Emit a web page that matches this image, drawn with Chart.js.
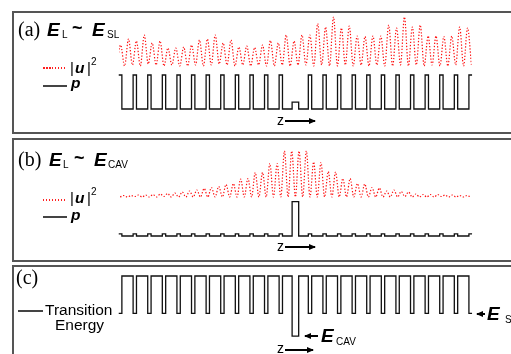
<!DOCTYPE html>
<html>
<head>
<meta charset="utf-8">
<script src="https://cdn.jsdelivr.net/npm/chart.js@4.4.1/dist/chart.umd.min.js"></script>
<style>
  body { margin: 0; background: #fff; }
  #wrap { position: relative; width: 511px; height: 354px; overflow: hidden; font-family: 'Liberation Sans', Arial, sans-serif; color: #000; }
  .box { position: absolute; left: 12px; width: 520px; border: 2px solid #555; box-sizing: border-box; }
  canvas { position: absolute; left: 108px; }
  .t { position: absolute; line-height: 1; white-space: nowrap; z-index: 2; }
  .ser { font-family: 'Liberation Serif', 'Times New Roman', serif; font-size: 20px; }
  .bi { font-weight: bold; font-style: italic; font-size: 19px; }
  .bl { font-weight: bold; font-size: 18px; }
  .s10 { font-size: 10px; }
  .s15 { font-size: 15px; }
  .bi15 { font-weight: bold; font-style: italic; font-size: 15.5px; }
  .red { position: absolute; left: 43px; width: 24px; height: 2px;
         background: repeating-linear-gradient(90deg, #ff2020 0 1.5px, transparent 1.5px 3px); }
  .blk { position: absolute; height: 2px; background: #444; }
  .arr { position: absolute; height: 1.5px; background: #000; z-index: 2; }
  .arr::after { content: ''; position: absolute; top: -2.5px; right: -1px;
                border-left: 7px solid #000; border-top: 3.25px solid transparent; border-bottom: 3.25px solid transparent; }
  .arr.l::after { right: auto; left: -1px; border-left: none; border-right: 7px solid #000; }
</style>
</head>
<body>
<div id="wrap">
  <div class="box" style="top:11px;height:123px"></div>
  <div class="box" style="top:138px;height:124px"></div>
  <div class="box" style="top:265px;height:100px"></div>

  <canvas id="chartA" width="375" height="100" style="top:14px"></canvas>
  <canvas id="chartB" width="375" height="100" style="top:141px"></canvas>
  <canvas id="chartC" width="375" height="80" style="top:268px"></canvas>

  <!-- (a) -->
  <div class="t ser" style="left:18px;top:19px">(a)</div>
  <div class="t bi" style="left:47px;top:20px">E</div>
  <div class="t s10" style="left:62px;top:30px">L</div>
  <div class="t bl" style="left:72px;top:19px">~</div>
  <div class="t bi" style="left:92px;top:20px">E</div>
  <div class="t s10" style="left:107px;top:30px">SL</div>
  <div class="red" style="top:67px"></div>
  <div class="t s15" style="left:70px;top:60px">|</div>
  <div class="t bi15" style="left:75px;top:60px">u</div>
  <div class="t s15" style="left:87px;top:60px">|</div>
  <div class="t s10" style="left:91px;top:57px">2</div>
  <div class="blk" style="left:43px;width:24px;top:85px"></div>
  <div class="t bi15" style="left:71px;top:75px">p</div>
  <div class="t s15" style="left:277px;top:113px;font-size:14px">z</div>
  <div class="arr" style="left:285px;top:120px;width:30px"></div>

  <!-- (b) -->
  <div class="t ser" style="left:18px;top:149px">(b)</div>
  <div class="t bi" style="left:49px;top:150px">E</div>
  <div class="t s10" style="left:63px;top:160px">L</div>
  <div class="t bl" style="left:74px;top:149px">~</div>
  <div class="t bi" style="left:94px;top:150px">E</div>
  <div class="t s10" style="left:108px;top:160px">CAV</div>
  <div class="red" style="top:199px"></div>
  <div class="t s15" style="left:70px;top:190px">|</div>
  <div class="t bi15" style="left:75px;top:190px">u</div>
  <div class="t s15" style="left:87px;top:190px">|</div>
  <div class="t s10" style="left:91px;top:187px">2</div>
  <div class="blk" style="left:43px;width:24px;top:216px"></div>
  <div class="t bi15" style="left:71px;top:207px">p</div>
  <div class="t s15" style="left:277px;top:239px;font-size:14px">z</div>
  <div class="arr" style="left:285px;top:246px;width:30px"></div>

  <!-- (c) -->
  <div class="t ser" style="left:16px;top:267px">(c)</div>
  <div class="blk" style="left:18px;width:25px;top:310px"></div>
  <div class="t" style="left:45px;top:302px;font-size:15.5px">Transition</div>
  <div class="t" style="left:55px;top:317px;font-size:15.5px">Energy</div>
  <div class="arr l" style="left:305px;top:335px;width:13px"></div>
  <div class="t bi" style="left:321px;top:326px">E</div>
  <div class="t s10" style="left:336px;top:337px">CAV</div>
  <div class="arr l" style="left:477px;top:313px;width:8px"></div>
  <div class="t bi" style="left:487px;top:304px">E</div>
  <div class="t s10" style="left:505px;top:315px">SL</div>
  <div class="t s15" style="left:277px;top:341px;font-size:14px">z</div>
  <div class="arr" style="left:285px;top:349px;width:28px"></div>
</div>

<script>
// layer structure along z, in units of the superlattice period
const zLayer = [0,1,2,3,4,5,6,7,8,9,10,11,12,13,14,15,16,17,18,19,20,21,22,23,24];
const layerWidth = [0.23,0.23,0.23,0.23,0.23,0.23,0.23,0.23,0.23,0.23,0.23,0.23,0.45,
                    0.23,0.23,0.23,0.23,0.23,0.23,0.23,0.23,0.23,0.23,0.23,0.23];
const pA = [1,1,1,1,1,1,1,1,1,1,1,1,0.2,1,1,1,1,1,1,1,1,1,1,1,1];
const pB = [0.06,0.06,0.06,0.06,0.06,0.06,0.06,0.06,0.06,0.06,0.06,0.06,1,
            0.06,0.06,0.06,0.06,0.06,0.06,0.06,0.06,0.06,0.06,0.06,0.06];
const teC = [0,0,0,0,0,0,0,0,0,0,0,0,-0.61,0,0,0,0,0,0,0,0,0,0,0,0];
const teBarrier = 1;
const zFrom = -0.1, zTo = 24.1;

// |u|^2 in (a): peak and trough heights
const uPeakA = [21,27,25,31,23,25,18,18,19,21,26,27,31,23,26,19,20,18.5,21,25.5,23,31,25,31,31,
                42.5,39,49,38,40,30,29.5,30,30,41,38,49,39,41,30,30,29.5,30,39,38];
const uValleyA = [1,0,1,0,2,1,0,1,0,0,1,0,1,2,1,0,1,0,1,0,0,1,0,1,1,0,
                  1,0,0,1,0,1,0,1,0,0,1,0,1,0,1,0,0,1,0,1];
const uStartA = 0.03, uStepA = 0.54;

// |u|^2 in (b): cavity mode
const uPeakB = [1.5,1.5,2,2,2.5,3,3.5,4,5,6,7,8.5,9.5,10.5,12.5,13.5,18,18.5,24.5,24.5,33.5,33.5,46,46,
                46,46,35,34.5,25.5,25,18.5,18.5,13.5,13,9.5,9,6,7,5.5,5,3,2.5,2.5,2.5,2,2,1.5,1.5];
const uValleyB = [0,0,0.5,0,0,0,0.5,0,0,0,0,0,0,0,0,0,0,0,0,0,0,0,0,0,0,
                  0,0,0,0,0,0,0,0,0,0,0,0,0,0,0.5,0,0,0,0,0.5,0,0,0,0];
const uStartB = 0.25, uStepB = 0.5;

function pulseLine(heights, base) {
  const pts = [];
  zLayer.forEach((c, i) => {
    const l = Math.max(c - layerWidth[i] / 2, zFrom);
    const r = Math.min(c + layerWidth[i] / 2, zTo);
    if (l > zFrom) pts.push({ x: l, y: base });
    pts.push({ x: l, y: heights[i] }, { x: r, y: heights[i] });
    if (r < zTo) pts.push({ x: r, y: base });
  });
  return pts;
}

function wave(peaks, valleys, z0, step) {
  const pts = [];
  valleys.forEach((v, i) => {
    pts.push({ x: z0 + (i - 0.5) * step, y: v });
    if (i < peaks.length) pts.push({ x: z0 + i * step, y: peaks[i] });
  });
  return pts;
}

function redSet(data) {
  return { data, yAxisID: 'yu', borderColor: '#ff1010', borderWidth: 1.2, borderDash: [1.3, 1.8],
           cubicInterpolationMode: 'monotone', pointRadius: 0,
           clip: { left: 0, right: 0, top: false, bottom: false } };
}
function blackSet(data, axis) {
  return { data, yAxisID: axis, borderColor: '#111', borderWidth: 1.3, pointRadius: 0, tension: 0, clip: false };
}

function panel(id, datasets, yScales) {
  const scales = { x: { type: 'linear', display: false, min: -0.082, max: 24.062 } };
  Object.keys(yScales).forEach(k => {
    scales[k] = { type: 'linear', display: false, min: yScales[k][0], max: yScales[k][1] };
  });
  new Chart(document.getElementById(id), {
    type: 'line',
    data: { datasets },
    options: {
      responsive: false, animation: false, devicePixelRatio: 1,
      layout: { padding: { left: 11, right: 11.5, top: 0, bottom: 0 } },
      plugins: { legend: { display: false }, tooltip: { enabled: false } },
      scales
    }
  });
}

panel('chartA',
  [redSet(wave(uPeakA, uValleyA, uStartA, uStepA)), blackSet(pulseLine(pA, 0), 'yp')],
  { yu: [-48, 52], yp: [-0.147, 2.794] });

panel('chartB',
  [redSet(wave(uPeakB, uValleyB, uStartB, uStepB)), blackSet(pulseLine(pB, 0), 'yp')],
  { yu: [-44, 56], yp: [-0.146, 2.770] });

panel('chartC',
  [blackSet(pulseLine(teC, teBarrier), 'yt')],
  { yt: [-0.930, 1.2145] });
</script>
</body>
</html>
